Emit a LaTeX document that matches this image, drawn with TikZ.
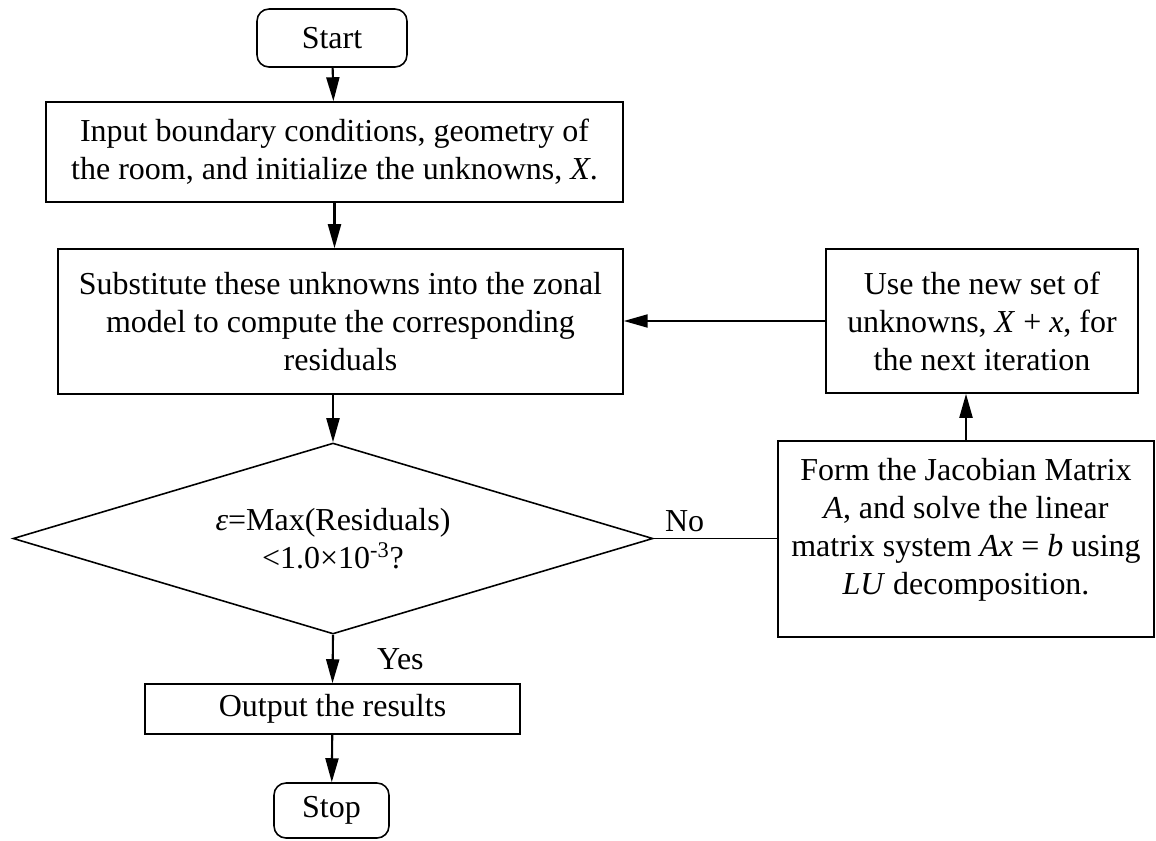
\documentclass[tikz,border=0pt]{standalone}
\usepackage{fontspec}
\setmainfont{Liberation Serif}
\usetikzlibrary{shapes.geometric,arrows.meta}

\begin{document}
\begin{tikzpicture}[x=0.02cm,y=-0.02cm,
        font=\fontsize{18.2}{21.6}\selectfont,
        box/.style={draw,line width=0.9pt,align=center,inner sep=2pt},
        term/.style={box,rounded corners=0.24cm},
        arr/.style={-{Triangle[length=0.48cm,width=0.26cm]},line width=1.2pt}]
	\useasboundingbox (0,0) rectangle (1156,840);

	\node[term,minimum width=3cm,minimum height=1.16cm] (start) at (332,38) {Start};
	\node[box,minimum width=11.54cm,minimum height=2cm] (input) at (334.5,152)
		{Input boundary conditions, geometry of\\the room, and initialize the unknowns, \textit{X}.};
	\node[box,minimum width=11.3cm,minimum height=2.9cm] (subst) at (340.5,321.5)
		{Substitute these unknowns into the zonal\\model to compute the corresponding\\residuals};
	\node[box,shape=diamond,aspect=3.35,minimum width=12.8cm,minimum height=3.82cm,inner sep=0pt] (check) at (333,538.5)
		{\textit{ε}=Max(Residuals)\\<1.0×10\textsuperscript{-3}?};
	\node[box,minimum width=7.5cm,minimum height=1cm] (output) at (332.5,709) {Output the results};
	\node[term,minimum width=2.3cm,minimum height=1.1cm] (stop) at (331.5,810.5) {Stop};

	\node[box,minimum width=6.24cm,minimum height=2.88cm] (update) at (982,321)
		{Use the new set of\\unknowns, \textit{X} + \textit{x}, for\\the next iteration};
	\node[box,minimum width=7.52cm,minimum height=3.92cm] (jacobian) at (966,539)
		{Form the Jacobian Matrix\\\textit{A}, and solve the linear\\matrix system \textit{Ax} = \textit{b} using\\\textit{LU} decomposition.\\[-0.25cm]\mbox{}};

	\draw[arr] (start) -- (input);
	\draw[arr] (input.south) -- (input.south |- subst.north);
	\draw[arr] (check.north |- subst.south) -- (check.north);
	\draw[arr] (check.south) -- (output.north) node[midway,right=0.75cm] {Yes};
	\draw[arr] (output) -- (stop);
	\draw[line width=0.7pt] (check.east) -- (check.east -| jacobian.west) node[pos=0.25,above] {No};
	\draw[arr] (jacobian.north) -- (jacobian.north |- update.south);
	\draw[arr] (update.west) -- (update.west -| subst.east);
\end{tikzpicture}
\end{document}
